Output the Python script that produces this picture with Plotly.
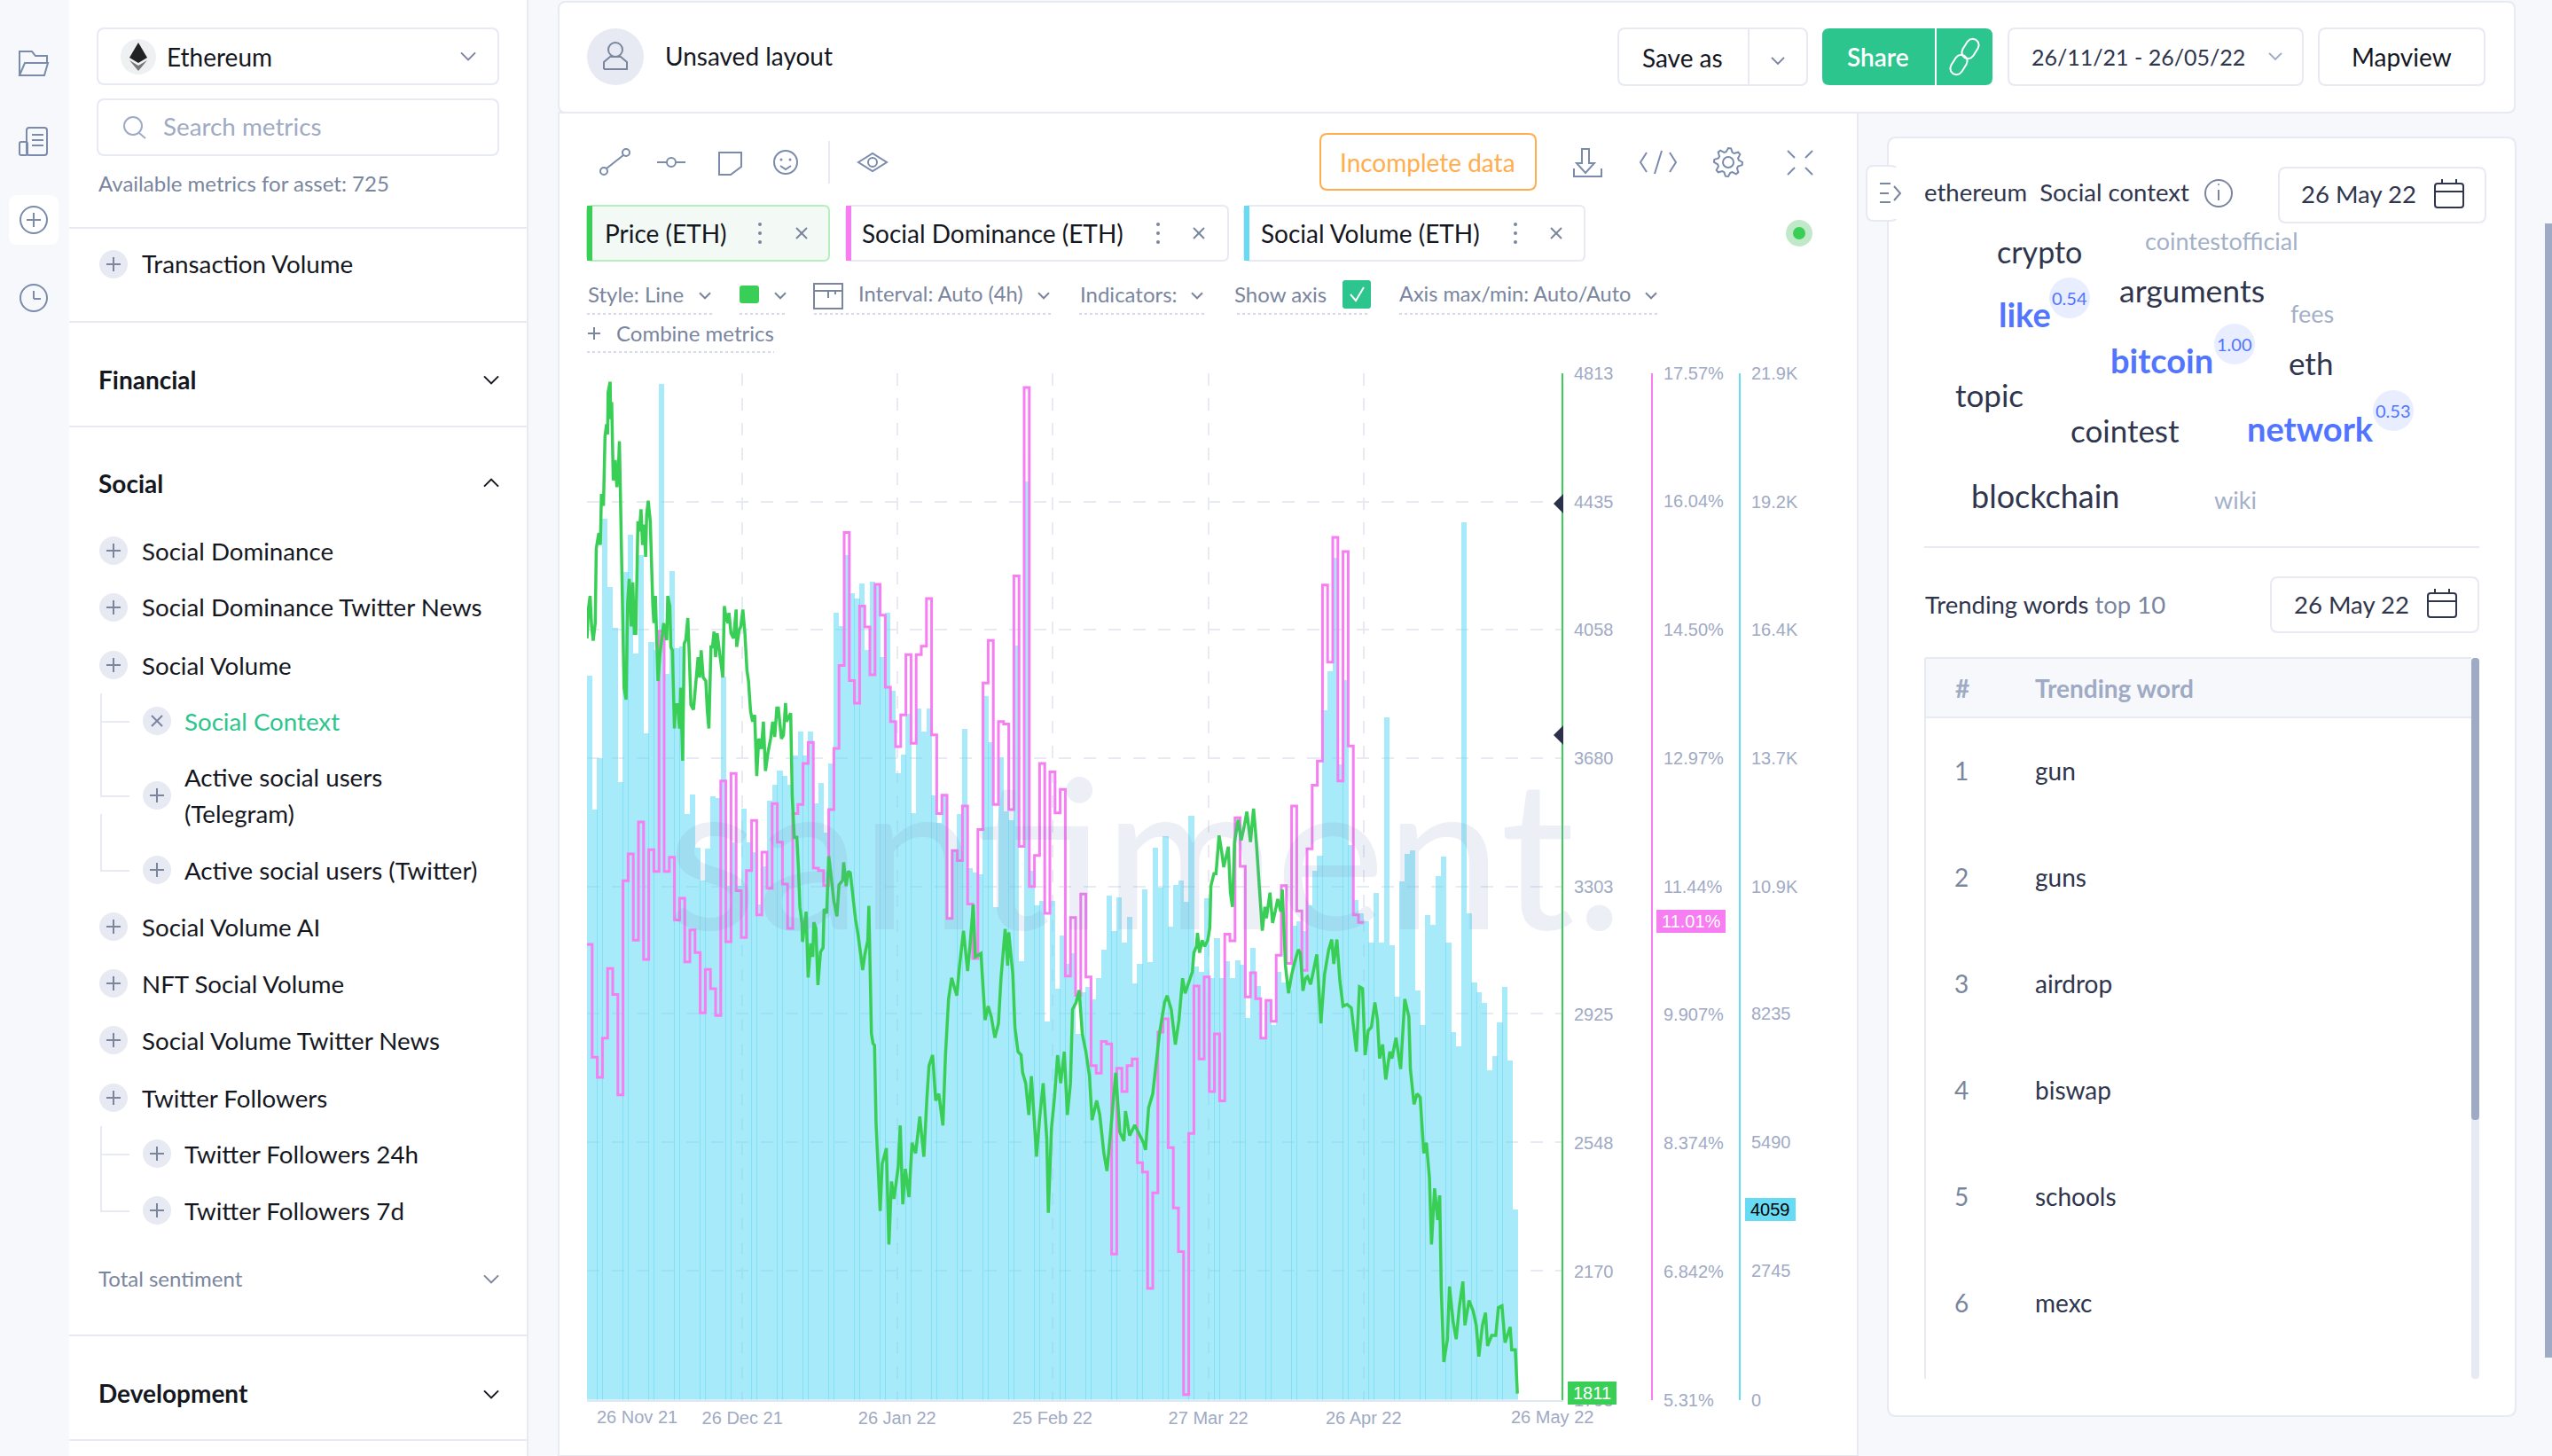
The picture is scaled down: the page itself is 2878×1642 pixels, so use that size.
import math
import pandas as pd
import plotly.graph_objects as go

W, H = 2878, 1642

# ---------- data ----------
start_date = "2021-11-26"
social_volume = [
15456,12582,13683,18801,17339,16470,13176,17665,18461,15913,18027,14226,16159,16000,21680,15478,17679,16036,16072,12503,12922,11786,11076,11764,12872,12836,15420,
10955,11885,10955,12617,11885,11690,10570,11380,12780,13130,13430,13310,13130,13740,14255,13740,14255,12715,13160,12100,13575,
16800,16500,18030,17210,17085,17425,16000,17460,17410,15855,16800,15130,13360,13770,14640,12520,14750,14250,14750,12890,12300,12870,
10250,11700,12490,14310,11340,11245,11210,15020,14030,10510,13700,12550,12360,16100,9350,19600,11290,10550,10650,8075,
10645,8776,9900,9300,9520,7800,8700,8810,8550,9000,
9600,10760,10000,10720,9750,10310,8890,9300,10885,9337,
11780,10920,12020,10090,10990,11080,10620,12460,9240,9135,
10690,8995,9850,8990,9360,8990,9380,9280,8140,9640,
8830,7690,8515,7990,9135,8900,8730,10115,10215,10000,
10550,11285,11600,14710,15540,17970,13560,15350,11840,10655,
10385,10215,9745,10810,9745,14560,9695,8590,11060,11650,
11715,8740,7990,10340,10135,11175,11590,9745,7840,7540,
18730,10385,8910,8700,8460,7020,7330,8050,8815,7240,4059]

social_dominance = [
10.75,9.40,9.16,9.63,10.46,10.15,8.95,11.51,11.83,10.80,12.21,10.57,11.88,11.62,14.49,11.62,11.79,11.04,11.30,10.54,
10.92,10.65,9.93,10.45,10.22,9.90,12.70,10.78,12.79,11.39,10.83,11.63,12.23,11.10,11.85,11.42,12.43,11.97,11.47,10.94,
12.31,12.42,12.91,13.16,11.66,11.63,11.45,12.36,13.09,14.08,15.67,13.90,13.63,14.79,14.54,13.97,15.05,14.68,13.82,13.41,
13.11,13.49,14.21,13.15,14.21,14.31,14.88,13.25,12.31,12.53,11.06,11.87,11.75,12.40,11.23,10.58,12.12,13.87,14.38,12.42,
13.41,13.38,12.36,15.15,11.92,17.40,11.44,11.81,12.91,11.12,12.81,12.32,12.60,10.37,11.07,10.14,11.35,10.36,9.30,9.21,
9.59,9.56,7.05,9.27,8.99,9.30,9.38,8.14,8.03,6.64,7.78,9.70,9.86,8.32,7.60,7.08,5.37,8.49,10.25,9.38,
10.36,8.99,9.68,8.88,10.87,10.79,12.26,11.68,10.12,10.41,10.10,9.63,10.08,9.83,10.62,11.45,10.52,12.40,11.15,10.44,
11.89,12.65,12.94,15.04,14.12,15.61,12.70,15.44,13.12,11.10,11.01]

price_days = [
0.0,0.3,0.6,0.9,1.2,1.6,1.8,2.3,2.6,2.8,3.2,3.5,3.8,4.0,4.1,4.5,4.6,4.8,5.1,5.5,5.8,6.1,6.3,6.5,6.7,7.0,7.2,7.6,7.9,8.2,8.6,8.9,9.2,9.5,9.9,10.2,10.5,10.8,11.1,11.4,11.6,11.9,12.3,12.8,13.0,13.3,13.6,13.8,14.2,14.9,15.5,15.7,16.1,16.3,16.6,17.0,17.2,17.6,18.0,18.2,18.6,18.9,19.2,19.6,19.9,20.2,20.7,21.1,21.6,21.9,22.2,22.6,23.1,23.4,23.7,24.1,24.4,24.7,25.0,25.3,25.8,26.4,26.7,27.0,27.4,27.6,28.0,28.5,29.0,29.1,29.6,29.9,30.3,30.7,31.1,31.4,31.8,32.2,32.6,33.0,33.4,33.9,34.3,34.7,35.2,35.7,36.1,36.5,36.9,37.2,37.8,38.2,38.6,38.8,39.6,39.9,40.3,40.8,
41.1,41.4,41.8,41.9,42.6,43.0,43.5,43.9,44.1,44.5,44.9,45.4,45.9,46.1,46.6,47.0,47.4,48.0,48.6,49.0,49.7,49.9,50.4,50.8,51.2,51.7,52.2,52.7,53.1,53.6,54.0,54.6,54.8,55.1,55.3,55.6,55.9,56.2,56.5,
56.7,57.0,57.4,58.2,58.7,59.2,59.7,60.5,60.9,61.4,61.9,62.6,63.2,63.9,64.7,65.5,66.1,66.5,67.2,67.8,68.4,69.2,69.7,70.3,70.9,71.9,72.4,73.2,74.0,74.4,75.1,75.5,76.6,77.4,78.0,78.6,79.3,80.0,80.5,81.3,81.8,82.0,82.8,83.2,83.8,84.4,84.7,85.3,85.9,86.4,86.9,87.4,88.0,88.7,89.4,89.7,90.3,90.9,91.5,92.1,92.8,93.4,94.0,94.4,95.1,95.7,96.3,97.0,97.7,98.2,99.1,99.7,100.5,101.1,101.8,102.8,103.6,104.4,104.7,105.5,106.5,107.5,108.2,108.6,109.2,110.0,110.9,111.3,112.3,112.8,113.6,114.4,115.1,
115.5,115.8,116.3,117.0,117.7,118.0,118.5,118.7,119.1,119.6,120.1,120.7,121.1,121.3,121.9,122.3,122.9,123.4,123.8,124.7,125.1,125.5,125.9,126.6,127.2,127.8,128.3,129.0,129.6,130.1,130.6,131.3,131.8,132.1,132.8,133.3,133.8,134.3,134.9,135.2,135.5,135.8,136.4,137.0,137.6,138.3,138.7,139.2,139.7,140.1,140.7,141.3,141.9,142.7,
143.4,144.2,144.8,145.2,145.8,146.4,147.0,147.8,148.6,149.6,150.2,150.8,151.3,151.9,152.5,153.2,153.7,154.1,154.7,155.3,156.1,156.5,157.3,158.2,159.0,159.8,160.1,160.8,161.4,162.0,162.7,163.2,163.8,164.2,164.8,165.4,165.8,166.1,166.6,167.3,167.7,168.4,169.0,169.6,170.3,170.7,171.5,172.3,172.9,173.4,174.1,174.7,175.1,175.9,176.7,177.2,177.9,178.5,179.5,179.8,180.5,180.9]

price_values = [
4033,4123,4158,4068,4026,4078,4298,4343,4308,4458,4423,4628,4663,4633,4758,4788,4678,4728,4498,4558,4478,4528,4613,4468,4238,4108,3888,3853,4138,4208,4068,4198,4048,4048,4378,4348,4413,4308,4368,4273,4398,4438,4378,4128,4078,4158,3998,3908,3988,4078,4028,4158,4128,4008,3998,3768,3838,3838,3768,3888,3673,4018,4028,4093,3978,3838,3823,3883,3978,3918,3998,3918,3908,3818,3768,4008,4008,4053,3978,4048,3988,3918,4128,4098,4078,4108,4048,4033,4118,4008,4058,4068,4118,4048,3938,3908,3818,3788,3808,3628,3738,3708,3788,3643,3698,3738,3788,3743,3828,3828,3738,3748,3843,3788,3813,3568,3448,3448,
3361,3242,3193,3140,3229,3035,3136,3096,3198,3180,3013,3110,3123,3237,3224,3392,3343,3260,3215,3308,3321,3374,3304,3348,3343,3277,3207,3162,3118,3057,3101,3145,3246,3030,2871,2841,2836,2607,2519,
2456,2348,2487,2533,2250,2435,2384,2477,2600,2368,2472,2389,2549,2518,2626,2508,2683,2776,2807,2673,2693,2600,2807,2972,3034,2982,3065,3173,3054,3116,3250,3096,3106,2910,2951,2920,2858,2900,3034,3178,3070,3168,3044,2889,2817,2807,2755,2724,2631,2745,2631,2508,2621,2724,2559,2343,2590,2683,2807,2724,2817,2631,2724,2941,2962,2998,2869,2817,2745,2616,2673,2631,2518,2466,2580,2755,2580,2554,2642,2570,2601,2570,2549,2528,2652,2693,2827,2869,2962,2982,2941,2838,2910,
2996,3033,2989,3024,3052,3108,3127,3166,3108,3145,3127,3145,3182,3304,3341,3341,3453,3406,3360,3420,3285,3243,3434,3499,3439,3481,3523,3434,3532,3443,3332,3173,3243,3210,3285,3196,3229,3266,3229,3294,3182,3071,2989,3043,3080,3117,3108,2996,3033,3038,3015,3057,3103,2900,
3044,3116,3147,3075,3147,3023,2951,2956,2946,2817,3008,3003,2807,2879,2889,2962,2910,2797,2838,2735,2817,2797,2858,2766,2972,2920,2766,2662,2693,2683,2518,2549,2446,2250,2415,2322,2394,2116,1904,1971,2126,2023,1971,2064,2141,2012,2085,2054,2012,1920,2012,2049,1951,1982,1982,2064,2069,1961,2007,1940,1940,1811]

date_tick_days = [0, 30.2, 60.3, 90.5, 120.8, 151]
date_tick_labels = ["", "26 Dec 21", "26 Jan 22", "25 Feb 22", "27 Mar 22", "26 Apr 22"]
price_ticks = [4813, 4435.5, 4058, 3680.5, 3303, 2925.5, 2548, 2170.5, 1793]
price_labels = ["4813", "4435", "4058", "3680", "3303", "2925", "2548", "2170", "1793"]
dom_ticks = [17.57, 16.04, 14.505, 12.97, 11.44, 9.907, 8.374, 6.842, 5.31]
dom_labels = ["17.57%", "16.04%", "14.50%", "12.97%", "11.44%", "9.907%", "8.374%", "6.842%", "5.31%"]
vol_ticks = [21900, 19162, 16425, 13687, 10950, 8235, 5490, 2745, 0]
vol_labels = ["21.9K", "19.2K", "16.4K", "13.7K", "10.9K", "8235", "5490", "2745", "0"]

sidebar_items = [
    ("Social Dominance", 621, 0), ("Social Dominance Twitter News", 685, 0), ("Social Volume", 750, 0),
    ("Active social users (Twitter)", 981, 1), ("Social Volume AI", 1045, 0), ("NFT Social Volume", 1109, 0),
    ("Social Volume Twitter News", 1173, 0), ("Twitter Followers", 1238, 0),
    ("Twitter Followers 24h", 1301, 1), ("Twitter Followers 7d", 1365, 1),
]
trending_words = ["gun", "guns", "airdrop", "biswap", "schools", "mexc"]

# ---------- colours ----------
GREEN, MAGENTA, CYAN = "#39cf57", "#f67df2", "#68dbf4"
TEAL = "#2dc58e"
BORDER = "#e7eaf3"
INK = "#15171f"
DARK = "#2f354d"
GREY = "#7a859e"
LIGHT = "#9faac4"
BLUE = "#5275ff"
UI = "Lato"
CHART = "Liberation Sans"

t0 = pd.Timestamp(start_date)
def day(d):
    return t0 + pd.to_timedelta(d, unit="D")

X = lambda px: px / W
Y = lambda py: 1 - py / H

shapes, annos = [], []

def path_of(points, close=False):
    s = "M " + " L ".join(f"{X(a):.6f} {Y(b):.6f}" for a, b in points)
    return s + (" Z" if close else "")

def poly(points, color=None, fill=None, width=2, close=False, layer="below", dash=None):
    line_ = dict(color=color or "rgba(0,0,0,0)", width=width if color else 0)
    if dash:
        line_["dash"] = dash
    shapes.append(dict(type="path", xref="paper", yref="paper", path=path_of(points, close),
                       line=line_, fillcolor=fill or "rgba(0,0,0,0)", layer=layer))

def rect(x0, y0, x1, y1, fill=None, color=None, width=2, r=0, layer="below"):
    line_ = dict(color=color or "rgba(0,0,0,0)", width=width if color else 0)
    if r:
        a, b = X(x0), X(x1)
        c, d = Y(y0), Y(y1)
        rx, ry = r / W, r / H
        p = (f"M {a+rx} {c} L {b-rx} {c} Q {b} {c} {b} {c-ry} L {b} {d+ry} Q {b} {d} {b-rx} {d} "
             f"L {a+rx} {d} Q {a} {d} {a} {d+ry} L {a} {c-ry} Q {a} {c} {a+rx} {c} Z")
        shapes.append(dict(type="path", xref="paper", yref="paper", path=p, line=line_,
                           fillcolor=fill or "rgba(0,0,0,0)", layer=layer))
    else:
        shapes.append(dict(type="rect", xref="paper", yref="paper", x0=X(x0), x1=X(x1), y0=Y(y1), y1=Y(y0),
                           line=line_, fillcolor=fill or "rgba(0,0,0,0)", layer=layer))

def circle(cx, cy, r, fill=None, color=None, width=2, layer="below"):
    shapes.append(dict(type="circle", xref="paper", yref="paper", x0=X(cx-r), x1=X(cx+r), y0=Y(cy+r), y1=Y(cy-r),
                       line=dict(color=color or "rgba(0,0,0,0)", width=width if color else 0),
                       fillcolor=fill or "rgba(0,0,0,0)", layer=layer))

def line(x0, y0, x1, y1, color=BORDER, width=2, dash=None, layer="below"):
    poly([(x0, y0), (x1, y1)], color=color, width=width, dash=dash, layer=layer)

def text(x, y, s, size=28, color=INK, anchor="left", weight=None, family=UI):
    f = dict(family=family, size=size, color=color)
    if weight:
        f["weight"] = weight
    annos.append(dict(xref="paper", yref="paper", x=X(x), y=Y(y), text=s, showarrow=False,
                      xanchor=anchor, yanchor="middle", align=anchor, font=f, borderpad=0))

def chevron(x, y, color=GREY, up=False, size=7, width=2):
    k = -1 if up else 1
    poly([(x-size, y-k*size*0.45), (x, y+k*size*0.55), (x+size, y-k*size*0.45)], color=color, width=width)

def plus_button(cx, cy, closed=False):
    circle(cx, cy, 16, fill=BORDER)
    if closed:
        line(cx-6, cy-6, cx+6, cy+6, color=GREY, width=2)
        line(cx-6, cy+6, cx+6, cy-6, color=GREY, width=2)
    else:
        line(cx-8, cy, cx+8, cy, color=GREY, width=2)
        line(cx, cy-8, cx, cy+8, color=GREY, width=2)

def calendar(cx, cy):
    rect(cx-16, cy-13, cx+16, cy+14, color=DARK, width=2, r=3)
    line(cx-16, cy-4, cx+16, cy-4, color=DARK, width=2)
    line(cx-8, cy-18, cx-8, cy-13, color=DARK, width=2)
    line(cx+8, cy-18, cx+8, cy-13, color=DARK, width=2)

def capsule(cx, cy, length, r, angle, color):
    pts = []
    a = math.radians(angle)
    for end, sweep in ((1, range(-90, 91, 30)), (-1, range(90, 271, 30))):
        ex, ey = cx + end * length / 2 * math.cos(a), cy + end * length / 2 * math.sin(a)
        for s in sweep:
            t = a + math.radians(s)
            pts.append((ex + r * math.cos(t), ey + r * math.sin(t)))
    poly(pts, color=color, close=True)

def gear(cx, cy, r0, r1, teeth, color):
    pts = []
    for k in range(teeth * 4):
        ang = 2 * math.pi * k / (teeth * 4)
        rad = r1 if k % 4 in (0, 1) else r0
        pts.append((cx + rad * math.cos(ang), cy + rad * math.sin(ang)))
    poly(pts, color=color, close=True)

# ---------- page panels ----------
rect(78, 0, 594, H, fill="white")
line(595, 0, 595, H)
rect(630, 2, 2836, 127, fill="white", color=BORDER, r=8)
rect(630, 127, 2095, H, fill="white", color=BORDER)
rect(2129, 155, 2837, 1597, fill="white", color=BORDER, r=10)
rect(2105, 187, 2140, 249, fill="white", color=BORDER, r=8)
rect(2128, 189, 2142, 247, fill="white")
rect(2870, 252, 2878, 1531, fill=LIGHT)

# left icon strip
ICON = "#7b8bab"
poly([(22, 84), (22, 58), (36, 58), (40, 63), (53, 63), (53, 71)], color=ICON)
poly([(22, 85), (28, 71), (54, 71), (50, 85)], color=ICON, close=True)
rect(30, 144, 53, 175, color=ICON, r=3)
rect(22, 160, 31, 175, color=ICON, r=2)
for yy in (152, 158, 164):
    line(36, yy, 49, yy, color=ICON)
rect(10, 220, 66, 276, fill="white", r=10)
circle(38, 248, 15, color=ICON)
line(30, 248, 46, 248, color=ICON)
line(38, 240, 38, 256, color=ICON)
circle(38, 336, 15, color=ICON)
line(38, 328, 38, 337, color=ICON)
line(38, 337, 46, 337, color=ICON)

# sidebar
rect(110, 32, 562, 95, fill="white", color=BORDER, r=8)
circle(156, 64, 20, fill="#eef0f2")
poly([(156, 48), (146, 65), (156, 71), (166, 65)], fill="#222", close=True)
poly([(146, 68), (156, 80), (166, 68), (156, 74)], fill="#777", close=True)
text(187, 64, "Ethereum", 28)
chevron(528, 63, GREY, size=8)
rect(110, 112, 562, 175, fill="white", color=BORDER, r=8)
circle(150, 142, 10, color=LIGHT)
line(157, 150, 164, 156, color=LIGHT)
text(183, 143, "Search metrics", 27.8, LIGHT)
text(110, 206, "Available metrics for asset: 725", 24, GREY)
line(78, 257, 594, 257)
plus_button(128, 298)
text(159, 297, "Transaction Volume", 27.8)
line(78, 363, 594, 363)
text(110, 428, "Financial", 28, INK, weight=700)
chevron(554, 428, INK, size=8)
line(78, 481, 594, 481)
text(110, 545, "Social", 28, INK, weight=700)
chevron(554, 545, INK, up=True, size=8)
for name, yy, lvl in sidebar_items:
    plus_button(128 if not lvl else 177, yy)
    text(159 if not lvl else 207, yy, name, 27.7)
plus_button(177, 813, closed=True)
text(207, 813, "Social Context", 27.7, TEAL)
plus_button(177, 897)
text(207, 877, "Active social users", 27.7)
text(207, 917, "(Telegram)", 27.7)
poly([(114, 782), (114, 898), (146, 898)], color=BORDER)
line(114, 814, 146, 814)
poly([(114, 918), (114, 982), (146, 982)], color=BORDER)
poly([(114, 1270), (114, 1366), (146, 1366)], color=BORDER)
line(114, 1302, 146, 1302)
text(110, 1441, "Total sentiment", 24, GREY)
chevron(554, 1442, GREY, size=8)
line(78, 1506, 594, 1506)
text(110, 1571, "Development", 28, INK, weight=700)
chevron(554, 1572, INK, size=8)
line(78, 1624, 594, 1624)

# header
circle(694, 64, 32, fill=BORDER)
circle(694, 56, 8, color=GREY)
poly([(681, 78), (681, 70), (688, 64), (700, 64), (707, 70), (707, 78), (681, 78)], color=GREY)
text(749, 63, "Unsaved layout", 28)
rect(1825, 32, 2038, 96, fill="white", color=BORDER, r=8)
line(1972, 32, 1972, 96)
text(1851, 65, "Save as", 28)
chevron(2005, 68, GREY)
rect(2055, 32, 2247, 96, fill=TEAL, r=8)
line(2183, 32, 2183, 96, color="white")
text(2118, 64, "Share", 28, "white", anchor="center", weight=600)
capsule(2209, 73, 10, 7, -58, "white")
capsule(2222, 55, 10, 7, -58, "white")
rect(2265, 32, 2597, 96, fill="white", color=BORDER, r=8)
text(2290, 64, "26/11/21 - 26/05/22", 25, DARK)
chevron(2566, 63, LIGHT)
rect(2615, 32, 2802, 96, fill="white", color=BORDER, r=8)
text(2708, 64, "Mapview", 28, INK, anchor="center")

# chart toolbar
circle(681, 193, 4, color=ICON)
circle(706, 172, 4, color=ICON)
line(684, 190, 703, 175, color=ICON)
circle(757, 183, 5, color=ICON)
line(741, 183, 752, 183, color=ICON)
line(762, 183, 773, 183, color=ICON)
poly([(811, 172), (836, 172), (836, 188), (824, 197), (811, 197)], color=ICON, close=True)
circle(886, 183, 13, color=ICON)
circle(881, 180, 1.5, fill=ICON)
circle(891, 180, 1.5, fill=ICON)
poly([(880, 187), (886, 191), (892, 187)], color=ICON)
line(935, 159, 935, 207)
poly([(968, 183), (984, 173), (1000, 183), (984, 193)], color=ICON, close=True)
circle(984, 183, 5, color=ICON)
rect(1489, 151, 1732, 214, fill="white", color="#ffad4d", r=8)
text(1610, 183, "Incomplete data", 28, "#ffad4d", anchor="center")
poly([(1784, 168), (1792, 168), (1792, 184), (1798, 184), (1788, 195), (1778, 184), (1784, 184)], color=ICON, close=True)
poly([(1775, 190), (1775, 199), (1806, 199), (1806, 190)], color=ICON)
poly([(1857, 172), (1850, 183), (1857, 194)], color=ICON)
poly([(1883, 172), (1890, 183), (1883, 194)], color=ICON)
line(1866, 196, 1874, 170, color=ICON)
circle(1949, 183, 6, color=ICON)
gear(1949, 183, 12, 16, 8, ICON)
for a, b, c, d in [(2016, 170, 2024, 178), (2044, 170, 2036, 178), (2016, 197, 2024, 189), (2044, 197, 2036, 189)]:
    line(a, b, c, d, color=ICON)

# metric tabs
rect(662, 232, 935, 294, fill="#f3faf5", color="#b6eebf", r=6)
rect(662, 232, 668, 294, fill=GREEN)
text(681, 263, "Price (ETH)", 28)
rect(954, 232, 1385, 294, fill="white", color=BORDER, r=6)
rect(954, 232, 960, 294, fill=MAGENTA)
text(971, 263, "Social Dominance (ETH)", 28)
rect(1403, 232, 1787, 294, fill="white", color=BORDER, r=6)
rect(1403, 232, 1409, 294, fill=CYAN)
text(1421, 263, "Social Volume (ETH)", 28)
for dx, xx in [(857, 904), (1306, 1352), (1709, 1755)]:
    for yy in (253, 263, 273):
        circle(dx, yy, 2, fill=GREY)
    line(xx-6, 257, xx+6, 269, color=GREY)
    line(xx-6, 269, xx+6, 257, color=GREY)
circle(2029, 263, 15, fill="#bfe9c9")
circle(2029, 263, 7, fill=GREEN)

# settings row
text(662, 331, "Style: Line", 24, GREY)
chevron(795, 333, GREY, size=6)
rect(834, 322, 856, 342, fill=GREEN, r=3)
chevron(880, 333, GREY, size=6)
rect(918, 320, 950, 348, color=GREY, width=2)
line(918, 328, 950, 328, color=GREY)
line(934, 328, 934, 336, color=GREY)
line(942, 328, 942, 332, color=GREY)
text(967, 331, "Interval: Auto (4h)", 23.7, GREY)
chevron(1177, 333, GREY, size=6)
text(1217, 331, "Indicators:", 24, GREY)
chevron(1350, 333, GREY, size=6)
text(1391, 331, "Show axis", 24, GREY)
rect(1514, 316, 1546, 348, fill=TEAL, r=3)
poly([(1523, 332), (1529, 339), (1538, 324)], color="white", width=2)
text(1577, 331, "Axis max/min: Auto/Auto", 23.5, GREY)
chevron(1862, 333, GREY, size=6)
for a, b in [(662, 803), (834, 888), (918, 1185), (1217, 1358), (1395, 1543), (1578, 1870)]:
    line(a, 354, b, 354, color="#d5dbe8", dash="dot")
line(663, 376, 677, 376, color=GREY)
line(670, 369, 670, 383, color=GREY)
text(694, 375, "Combine metrics", 24, GREY)
line(662, 397, 873, 397, color="#d5dbe8", dash="dot")

# right panel: social context
line(2120, 207, 2132, 207, color=GREY)
line(2120, 218, 2130, 218, color=GREY)
line(2120, 228, 2132, 228, color=GREY)
poly([(2136, 210), (2143, 218), (2136, 226)], color=GREY)
text(2169, 217, "ethereum  Social context", 27.5, DARK)
circle(2502, 218, 15, color=GREY)
line(2502, 214, 2502, 226, color=GREY)
circle(2502, 208, 1, fill=GREY)
rect(2570, 189, 2803, 251, fill="white", color=BORDER, r=8)
text(2594, 219, "26 May 22", 27.5, DARK)
calendar(2762, 220)
for w, x0, y0, sz, col, wt in [
    ("crypto", 2251, 283, 34, DARK, None), ("cointestofficial", 2418, 271, 27, "#a4b0c8", None),
    ("arguments", 2389, 327, 35.5, DARK, None), ("fees", 2582, 353, 27, "#a4b0c8", None),
    ("eth", 2580, 409, 35, DARK, None), ("topic", 2204, 445, 35, DARK, None),
    ("cointest", 2334, 485, 35, DARK, None), ("blockchain", 2222, 559, 36, DARK, None),
    ("wiki", 2496, 563, 27, "#a4b0c8", None), ("like", 2253, 354, 38, BLUE, 700),
    ("bitcoin", 2379, 406, 38, BLUE, 700), ("network", 2533, 483, 38, BLUE, 700)]:
    text(x0, y0, w, sz, col, weight=wt)
for v, cx, cy in [("0.54", 2334, 336), ("1.00", 2520, 388), ("0.53", 2699, 463)]:
    circle(cx, cy, 23, fill="#e8edff")
    text(cx, cy, v, 20, BLUE, anchor="center")
line(2170, 617, 2796, 617)

# right panel: trending
annos.append(dict(xref="paper", yref="paper", x=X(2169), y=Y(681), xanchor="left", yanchor="middle", showarrow=False,
                  text=f'Trending words <span style="color:{GREY}">top 10</span>',
                  font=dict(family=UI, size=27.5, color=DARK)))
rect(2561, 651, 2795, 713, fill="white", color=BORDER, r=8)
text(2586, 681, "26 May 22", 27.5, DARK)
calendar(2754, 682)
rect(2171, 742, 2787, 809, fill="#f6f8fc")
line(2171, 809, 2787, 809)
line(2171, 742, 2787, 742)
line(2171, 742, 2171, 1555)
rect(2787, 742, 2796, 1555, fill=BORDER, r=4)
rect(2787, 742, 2796, 1263, fill=LIGHT, r=4)
text(2204, 776, "#", 28, LIGHT, weight=700)
text(2294, 776, "Trending word", 28, LIGHT, weight=700)
for i, w in enumerate(trending_words):
    yy = 869 + i * 120
    text(2203, yy, str(i + 1), 28, GREY)
    text(2294, yy, w, 28, DARK)

# chart overlays
annos.append(dict(xref="paper", yref="paper", x=X(1291), y=Y(957), text="santiment.", showarrow=False,
                  xanchor="center", yanchor="middle",
                  font=dict(family="Lato", size=235, color="rgba(120,140,190,0.14)")))
for yy in (568, 829):
    poly([(1752, yy), (1763, yy-11), (1763, yy+11)], fill="#2b3148", close=True, layer="above")
rect(1768, 1558, 1823, 1584, fill=GREEN, layer="above")
text(1795.5, 1571, "1811", 20, "white", anchor="center", family=CHART)
rect(1868, 1026, 1946, 1052, fill=MAGENTA, layer="above")
text(1907, 1039, "11.01%", 20, "white", anchor="center", family=CHART)
rect(1968, 1351, 2025, 1377, fill=CYAN, layer="above")
text(1996.5, 1364, "4059", 20, "black", anchor="center", family=CHART)
text(672, 1598, "26 Nov 21", 20, LIGHT, family=CHART)
text(1798, 1598, "26 May 22", 20, LIGHT, anchor="right", family=CHART)

# ---------- traces ----------
bar_x = [day(i + 0.5) for i in range(len(social_volume))]
dom_x = [day(i) for i in range(len(social_dominance) + 1)]
dom_y = social_dominance + [social_dominance[-1]]
price_x = [day(d) for d in price_days]

fig = go.Figure()
fig.add_trace(go.Bar(x=bar_x, y=social_volume, yaxis="y", width=86400000 * 1.08,
                     marker=dict(color="rgba(104,219,244,0.58)", line=dict(width=0)), hoverinfo="skip"))
fig.add_trace(go.Scatter(x=dom_x, y=dom_y, yaxis="y2", mode="lines",
                         line=dict(color=MAGENTA, width=3, shape="hv"), hoverinfo="skip"))
fig.add_trace(go.Scatter(x=price_x, y=price_values, yaxis="y3", mode="lines",
                         line=dict(color=GREEN, width=3.5), hoverinfo="skip"))

ydom = [Y(1578.5), Y(421)]
tickfont = dict(family=CHART, size=20, color=LIGHT)
def yaxis_style(rng, vals, labels, pos, color):
    return dict(domain=ydom, range=rng, tickmode="array", tickvals=vals, ticktext=labels, anchor="free",
                position=X(pos), side="right", showline=True, linecolor=color, linewidth=2, ticks="",
                showgrid=False, zeroline=False, tickfont=tickfont, ticklabelstandoff=8, automargin=False)

fig.update_layout(
    width=W, height=H, autosize=False, margin=dict(l=0, r=0, t=0, b=0, pad=0),
    paper_bgcolor="#f6f8fc", plot_bgcolor="rgba(0,0,0,0)", showlegend=False, bargap=0, barmode="overlay",
    xaxis=dict(type="date", domain=[X(662), X(1763)], range=[day(0), day((1763 - 662) / 5.8)],
               tickmode="array", tickvals=[day(d) for d in date_tick_days], ticktext=date_tick_labels,
               showgrid=True, gridcolor=BORDER, gridwidth=2, griddash="14px,14px", zeroline=False,
               showline=True, linecolor="#e0e6f2", linewidth=2, ticks="", tickfont=tickfont,
               ticklabelstandoff=1, anchor="y", automargin=False),
    yaxis={**yaxis_style([0, 21900], vol_ticks, vol_labels, 1962, CYAN),
           "showgrid": True, "gridcolor": BORDER, "gridwidth": 2, "griddash": "14px,14px"},
    yaxis2={**yaxis_style([5.31, 17.57], dom_ticks, dom_labels, 1863, MAGENTA), "overlaying": "y"},
    yaxis3={**yaxis_style([1793, 4813], price_ticks, price_labels, 1762, GREEN), "overlaying": "y"},
    shapes=shapes, annotations=annos,
)

fig.write_html("out.html", config={"displayModeBar": False},
               post_script="document.body.style.margin='0';document.body.style.overflow='hidden';")
